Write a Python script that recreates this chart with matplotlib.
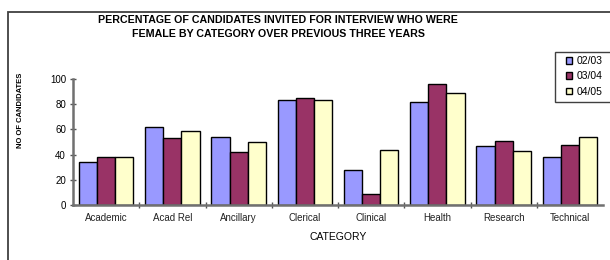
import numpy as np
import matplotlib.pyplot as plt
from matplotlib.patches import Rectangle

plt.rcParams['font.family'] = ['Liberation Sans', 'DejaVu Sans']

# data
categories = ['Academic', 'Acad Rel', 'Ancillary', 'Clerical', 'Clinical',
              'Health', 'Research', 'Technical']
years = ['02/03', '03/04', '04/05']
y0203 = [34, 62, 54, 83, 28, 82, 47, 38]
y0304 = [38, 53, 42, 85, 9, 96, 51, 48]
y0405 = [38, 59, 50, 83, 44, 89, 43, 54]
colors = ['#9999FF', '#993366', '#FFFFCC']

fig = plt.figure(figsize=(6.1, 2.6), dpi=100)

# outer chart frame (runs off right and bottom edges)
fig.patches.append(Rectangle((8/610, -0.1), 1.0, 1 - 12/260 + 0.1,
                             transform=fig.transFigure, fill=False,
                             edgecolor='#404040', linewidth=1.3))

ax = fig.add_axes([73/610, 1 - 205/260, 530/610, 126/260])

x = np.arange(len(categories))
w = 0.273
series = [y0203, y0304, y0405]
for k, vals in enumerate(series):
    ax.bar(x + (k - 1) * w, vals, w, color=colors[k], edgecolor='black',
           linewidth=1.0, label=years[k])

ax.set_xlim(-0.5, len(categories) - 0.5)
ax.set_ylim(0, 100)
ax.set_yticks([0, 20, 40, 60, 80, 100])
ax.set_xticks(x)
ax.set_xticklabels(categories)
ax.set_xticks(x[:-1] + 0.5, minor=True)
ax.tick_params(axis='x', which='major', length=0, labelsize=7, pad=6,
               colors='#222222')
ax.tick_params(axis='x', which='minor', length=5, direction='inout',
               width=1, color='#555555')
ax.tick_params(axis='y', length=4, direction='inout', width=1,
               color='#555555', labelsize=7, pad=3)

for s in ['top', 'right']:
    ax.spines[s].set_visible(False)
ax.spines['left'].set_color('#707070')
ax.spines['left'].set_linewidth(1.8)
ax.spines['bottom'].set_color('#707070')
ax.spines['bottom'].set_linewidth(1.8)

ax.set_xlabel('CATEGORY', fontsize=7.5, labelpad=6)
fig.text(21/610, 1 - 110/260, 'NO OF CANDIDATES', rotation=90, fontsize=5.5,
         fontweight='bold', ha='center', va='center')

fig.text(278/610, 1 - 20/260, 'PERCENTAGE OF CANDIDATES INVITED FOR INTERVIEW WHO WERE',
         fontsize=7.7, fontweight='bold', ha='center', va='center')
fig.text(278/610, 1 - 34/260, 'FEMALE BY CATEGORY OVER PREVIOUS THREE YEARS',
         fontsize=7.7, fontweight='bold', ha='center', va='center')

# legend box drawn separately so it can run off the right edge
fig.patches.append(Rectangle((555/610, 1 - 102/260), 70/610, 50/260,
                             transform=fig.transFigure, facecolor='white',
                             edgecolor='#404040', linewidth=1.0))
leg = fig.legend(loc='upper left', bbox_to_anchor=(563/610, 1 - 53/260),
                 fontsize=7.5, frameon=False, handlelength=0.6,
                 handleheight=0.6, handletextpad=0.4, borderpad=0.3,
                 labelspacing=0.5, borderaxespad=0)

fig.savefig('out.png', dpi=100)
